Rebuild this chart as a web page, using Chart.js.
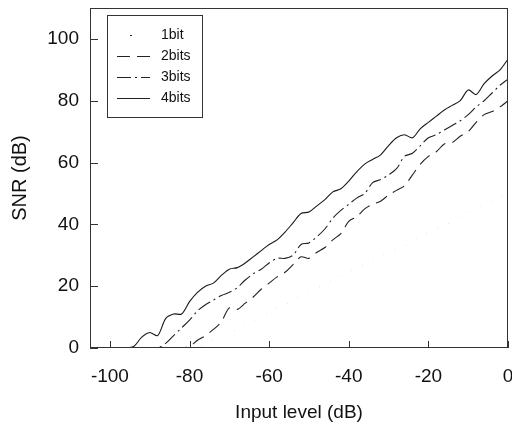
<!DOCTYPE html>
<html>
<head>
<meta charset="utf-8">
<script src="https://cdn.jsdelivr.net/npm/chart.js@4.4.1/dist/chart.umd.min.js"></script>
<style>
  html, body { margin: 0; background: #fff; }
  #wrap { width: 512px; height: 427px; }
</style>
</head>
<body>
<div id="wrap"><canvas id="snrChart"></canvas></div>
<script>
/* ===== DATA ===== */
const levels = [-104,-102,-100,-98,-96,-94,-92,-90,-88,-86,-84,-82,-80,-78,-76,-74,-72,-70,-68,-66,
  -64,-62,-60,-58,-56,-54,-52,-50,-48,-46,-44,-42,-40,-38,-36,-34,-32,-30,-28,-26,
  -24,-22,-20,-18,-16,-14,-12,-10,-8,-6,-4,-2,0];

const snr1bit = [0,0,0,0,0,0,0,0,0,0,0,0,0,0,1.5,2.5,3.5,5,6,7.5,
  8.5,10,11.5,13,14,15.5,17,18,19.5,20.5,22,23,24.5,26,27,28,29.5,31,32,33,
  34.5,36,37.5,38.5,39.5,41,42.5,44,45,46.5,47.5,49,50];

const snr2bits = [0,0,0,0,0,0,0,0,0,0,0,0,0.5,2.5,4,6,8.5,13,12.5,14.5,
  16.5,19,21,23,24.5,27,29.5,29,31,32.5,35,37,41,42.5,45,46.5,47.5,49.5,51,52.5,
  56,59.5,62,63.5,66,66.5,68.5,70,73,75.5,76.5,78,80];

const snr3bits = [0,0,0,0,0,0,0,0,0,1.5,4,6.5,9,12,14,15.5,17,18,19.5,22,
  24,25.5,27.5,29,29,30,33.5,34,36,38.5,42,44.5,46.5,48.5,50,53.5,54.5,56,58,62,
  63,65.5,68,69,70.5,72,73.5,75.5,78,80,82.5,85,87];

const snr4bits = [0,0,0,0,0,0.5,3.5,5,4,9.5,11,11,15,18,20,21,23.5,25.5,26,27.5,
  29.5,31.5,33.5,35,37.5,40.5,43.5,44,46,48,50.5,51.5,54,57,59.5,61,62.5,65.5,68,69,
  68,71,73,75,77,78.5,80,83.5,82,85.5,88,90,93.5];

const xTicks = [-100,-80,-60,-40,-20,0];
const yTicks = [0,20,40,60,80,100];

const FONT = "'Liberation Sans', Arial, sans-serif";
const pts = arr => levels.map((x, i) => ({ x, y: arr[i] }));
const noPad = s => { s.paddingLeft = 0; s.paddingRight = 0; s.paddingTop = 0; s.paddingBottom = 0; };

/* ===== FRAME, INWARD TICKS, LEGEND BOX ===== */
const frameTicks = {
  id: 'frameTicks',
  afterDatasetsDraw(chart) {
    const { ctx, chartArea: a, scales: { x, y } } = chart;
    ctx.save();
    ctx.strokeStyle = '#333';
    ctx.lineWidth = 1;
    ctx.strokeRect(a.left + 0.5, a.top + 0.5, a.right - a.left - 1, a.bottom - a.top - 1);
    ctx.beginPath();
    x.ticks.forEach(t => {
      const px = Math.round(x.getPixelForValue(t.value)) + 0.5;
      ctx.moveTo(px, a.bottom); ctx.lineTo(px, a.bottom - 7);
    });
    y.ticks.forEach(t => {
      const py = Math.round(y.getPixelForValue(t.value)) + 0.5;
      ctx.moveTo(a.left, py); ctx.lineTo(a.left + 8, py);
    });
    ctx.stroke();

    // legend
    const bx = a.left + 17, by = a.top + 7;
    ctx.fillStyle = '#fff';
    ctx.fillRect(bx, by, 95, 102);
    ctx.strokeStyle = '#333';
    ctx.strokeRect(bx + 0.5, by + 0.5, 95, 102);
    ctx.font = '14px ' + FONT;
    ctx.textBaseline = 'middle';
    ctx.textAlign = 'left';
    chart.data.datasets.forEach((ds, i) => {
      const ly = Math.round(by + 20 + i * 21) + 0.5;
      ctx.strokeStyle = '#222';
      ctx.lineWidth = 1;
      ctx.beginPath();
      if (i === 0) {
        ctx.setLineDash([]);
        ctx.moveTo(bx + 23, ly); ctx.lineTo(bx + 25, ly);
      } else {
        ctx.setLineDash(ds.borderDash || []);
        ctx.moveTo(bx + 10, ly); ctx.lineTo(bx + 43, ly);
      }
      ctx.stroke();
      ctx.setLineDash([]);
      ctx.fillStyle = '#111';
      ctx.fillText(ds.label, bx + 54, ly);
    });
    ctx.restore();
  }
};

/* ===== CHART ===== */
function initSnrChart() {
  const ctx = document.getElementById('snrChart');
  if (!ctx || typeof Chart === 'undefined') return;
  const line = { borderWidth: 1.1, pointRadius: 0, tension: 0.3, fill: false };
  new Chart(ctx, {
    type: 'line',
    data: {
      datasets: [
        { ...line, label: '1bit',  data: pts(snr1bit),  borderColor: '#e2e2e2', borderWidth: 1, borderDash: [1, 11] },
        { ...line, label: '2bits', data: pts(snr2bits), borderColor: '#222', borderDash: [13, 7] },
        { ...line, label: '3bits', data: pts(snr3bits), borderColor: '#222', borderDash: [14, 4, 2, 4] },
        { ...line, label: '4bits', data: pts(snr4bits), borderColor: '#1a1a1a' }
      ]
    },
    options: {
      responsive: true, maintainAspectRatio: false, animation: false, devicePixelRatio: 1,
      layout: { padding: { top: 8, right: 4, left: 0, bottom: 0 } },
      plugins: { legend: { display: false }, tooltip: { enabled: false } },
      scales: {
        x: {
          type: 'linear', min: -105, max: 0,
          afterFit: s => { s.height = 79; noPad(s); },
          afterBuildTicks: s => { s.ticks = xTicks.map(v => ({ value: v })); },
          grid: { display: false, drawTicks: false },
          border: { display: false },
          ticks: { padding: 17, color: '#111', font: { family: FONT, size: 19 } },
          title: { display: true, text: 'Input level (dB)', color: '#111', padding: { top: 0, bottom: 3 }, font: { family: FONT, size: 19 } }
        },
        y: {
          min: 0, max: 110,
          afterFit: s => { s.width = 90; noPad(s); },
          afterBuildTicks: s => { s.ticks = yTicks.map(v => ({ value: v })); },
          grid: { display: false, drawTicks: false },
          border: { display: false },
          ticks: { padding: 11, color: '#111', font: { family: FONT, size: 19 } },
          title: { display: true, text: 'SNR (dB)', color: '#111', padding: { top: 8, bottom: 0 }, font: { family: FONT, size: 20 } }
        }
      }
    },
    plugins: [frameTicks]
  });
}

document.addEventListener('DOMContentLoaded', initSnrChart);
</script>
</body>
</html>
